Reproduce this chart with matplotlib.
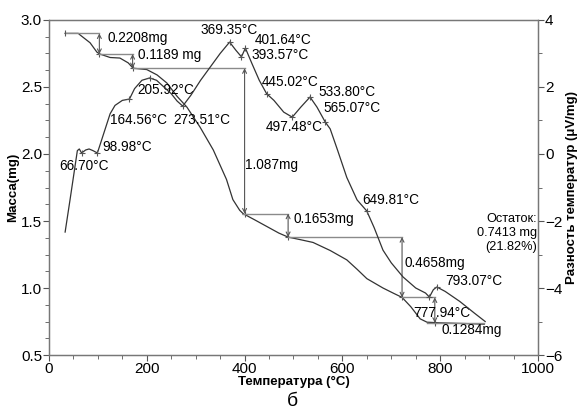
import matplotlib.pyplot as plt
from matplotlib.ticker import MultipleLocator

plt.rcParams['font.family'] = ['Liberation Sans', 'DejaVu Sans']

# TG curve (mass, mg) vs temperature
tg_t = [33, 60, 63, 84, 98, 104, 125, 145, 162, 172, 200, 221, 241, 262, 282, 309,
        336, 363, 376, 390, 397, 420, 445, 470, 489, 515, 540, 575, 609, 630, 650,
        683, 705, 722, 740, 759, 773, 800, 850, 890]
tg_m = [2.90, 2.90, 2.89, 2.83, 2.76, 2.746, 2.72, 2.716, 2.68, 2.64, 2.63, 2.59,
        2.53, 2.43, 2.35, 2.20, 2.03, 1.81, 1.66, 1.58, 1.555, 1.51, 1.46, 1.41,
        1.38, 1.36, 1.34, 1.28, 1.21, 1.14, 1.07, 1.00, 0.96, 0.93, 0.86, 0.77,
        0.745, 0.74, 0.735, 0.73]

# DTA curve (uV/mg) vs temperature
dta_t = [33, 43, 53, 58, 62, 66.7, 75, 82, 90, 98.98, 105, 115, 125, 135, 150,
         164.56, 175, 190, 205.92, 220, 235, 250, 262, 273.51, 290, 310, 330, 350,
         369.35, 382, 393.57, 401.64, 415, 430, 445.02, 460, 480, 497.48, 515,
         533.8, 548, 565.07, 575, 590, 609, 630, 649.81, 665, 683, 700, 724, 750,
         770, 777.94, 786, 793.07, 810, 840, 870, 892]
dta_v = [-2.33, -1.37, -0.39, 0.10, 0.15, 0.03, 0.12, 0.15, 0.10, 0.03, 0.30, 0.75,
         1.20, 1.45, 1.60, 1.64, 1.95, 2.20, 2.27, 2.20, 2.00, 1.80, 1.58, 1.43,
         1.75, 2.20, 2.60, 3.00, 3.34, 3.10, 2.90, 3.16, 2.70, 2.20, 1.80, 1.60,
         1.25, 1.10, 1.40, 1.70, 1.40, 0.95, 0.75, 0.12, -0.70, -1.37, -1.70,
         -2.20, -2.87, -3.25, -3.67, -4.00, -4.15, -4.27, -4.05, -3.97, -4.10,
         -4.40, -4.75, -5.00]

# marked DTA peaks: (temperature, label x, label y in mass units)
peak_t = [66.7, 98.98, 164.56, 205.92, 273.51, 369.35, 393.57, 401.64, 445.02,
          497.48, 533.8, 565.07, 649.81, 777.94, 793.07]
peak_lbl = ['66.70°C', '98.98°C', '164.56°C', '205.92°C', '273.51°C', '369.35°C',
            '393.57°C', '401.64°C', '445.02°C', '497.48°C', '533.80°C', '565.07°C',
            '649.81°C', '777.94°C', '793.07°C']
peak_lx = [22, 110, 125, 180, 254, 309, 415, 421, 436, 444, 550, 562, 640, 744, 810]
peak_ly = [1.91, 2.05, 2.25, 2.48, 2.25, 2.925, 2.74, 2.85, 2.54, 2.20, 2.46, 2.34,
           1.66, 0.81, 1.05]

# mass-loss steps: x of vertical arrow, upper level, lower level, line start
step_x = [103, 171, 400, 489, 722, 789]
step_hi = [2.90, 2.746, 2.64, 1.555, 1.38, 0.93]
step_lo = [2.746, 2.64, 1.555, 1.38, 0.93, 0.74]
step_x0 = [33, 103, 171, 397, 489, 722]
step_lbl = ['0.2208mg', '0.1189 mg', '1.087mg', '0.1653mg', '0.4658mg', '0.1284mg']
step_lx = [119, 182, 401, 499, 726, 802]
step_ly = [2.865, 2.74, 1.92, 1.515, 1.19, 0.69]

residue_lines = ['Остаток:', '0.7413 mg', '(21.82%)']
residue_y = [1.515, 1.41, 1.305]

fs = 9.8

fig = plt.figure(figsize=(5.77, 4.12), dpi=100)
ax = fig.add_axes([0.0849, 0.1383, 0.8475, 0.8132])
ax2 = ax.twinx()

ax.plot(tg_t, tg_m, color='#333333', lw=0.9)
ax2.plot(dta_t, dta_v, color='#333333', lw=0.9)

pv = [dta_v[dta_t.index(t)] for t in peak_t]
ax2.plot(peak_t, pv, '+', color='#555555', ms=5, mew=0.8)

gray = '#8a8a8a'
for i in range(len(step_x)):
    ax.plot([step_x0[i], step_x[i]], [step_hi[i], step_hi[i]], color=gray, lw=1)
    ax.annotate('', xy=(step_x[i], step_lo[i]), xytext=(step_x[i], step_hi[i]),
                arrowprops=dict(arrowstyle='<->', color='#555555', lw=0.8,
                                shrinkA=0, shrinkB=0, mutation_scale=7))
    ax.plot([step_x[i]], [step_lo[i]], '+', color='#555555', ms=5, mew=0.8)
    ax.text(step_lx[i], step_ly[i], step_lbl[i], fontsize=fs, va='center', ha='left')
ax.plot([step_x0[0]], [step_hi[0]], '|', color='#555555', ms=5, mew=0.8)
ax.plot([773, 890], [0.74, 0.74], color=gray, lw=1)

for i in range(len(peak_lbl)):
    ax.text(peak_lx[i], peak_ly[i], peak_lbl[i], fontsize=fs, va='center', ha='left')

for s, y in zip(residue_lines, residue_y):
    ax.text(998, y, s, fontsize=9.2, ha='right', va='center')

ax.set_xlim(0, 1000)
ax.set_ylim(0.5, 3.0)
ax2.set_ylim(-6, 4)
ax.xaxis.set_major_locator(MultipleLocator(200))
ax.xaxis.set_minor_locator(MultipleLocator(50))
ax.yaxis.set_major_locator(MultipleLocator(0.5))
ax.yaxis.set_minor_locator(MultipleLocator(0.125))
ax2.yaxis.set_major_locator(MultipleLocator(2))
ax2.yaxis.set_minor_locator(MultipleLocator(1))
ax.yaxis.set_major_formatter(plt.FormatStrFormatter('%.1f'))

for a in (ax, ax2):
    a.tick_params(which='both', direction='out', color='#555555', labelsize=11, pad=1)
    a.tick_params(which='major', length=4)
    a.tick_params(which='minor', length=3)
    for s in a.spines.values():
        s.set_color('#777777')
        s.set_linewidth(0.9)

ax.set_xlabel('Температура (°C)', fontsize=9.5, fontweight='bold', labelpad=0)
ax.set_ylabel('Масса(mg)', fontsize=9.5, fontweight='bold', labelpad=1)
ax2.set_ylabel('Разность температур (μV/mg)', fontsize=9.5, fontweight='bold', labelpad=3)
fig.text(0.506, 0.025, 'б', fontsize=14, ha='center', va='center')

fig.savefig('out.png', dpi=100)
